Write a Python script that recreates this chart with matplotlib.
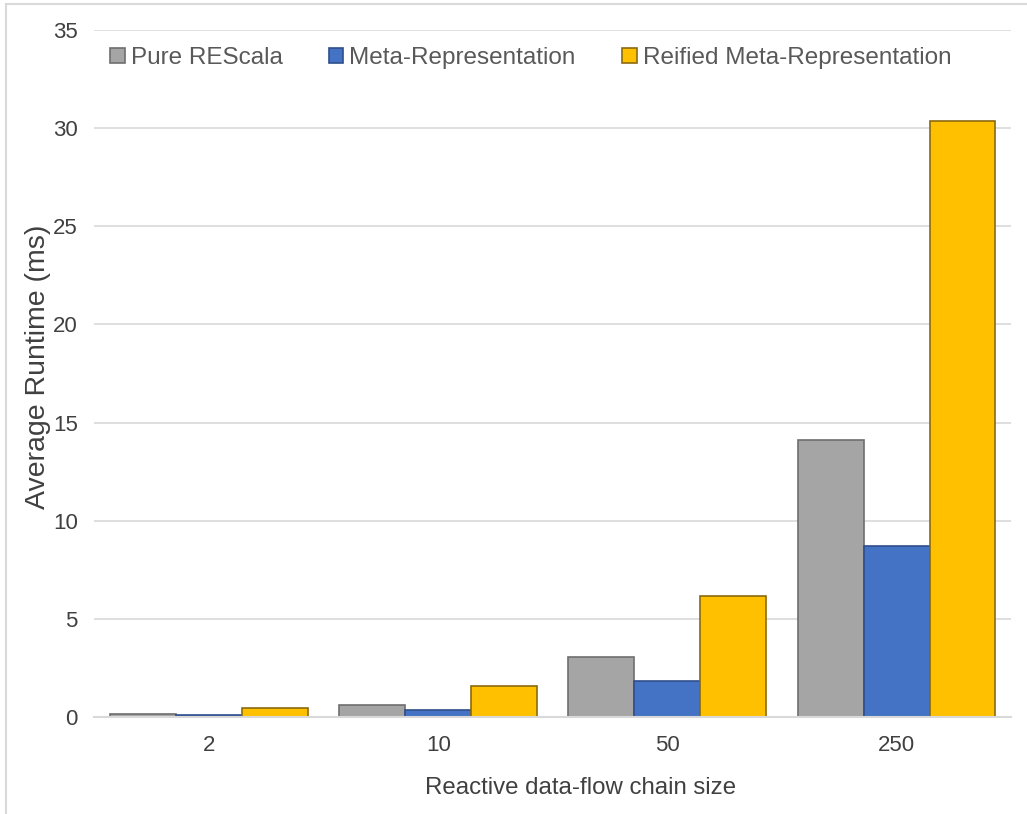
import matplotlib.pyplot as plt
import numpy as np
from matplotlib.lines import Line2D

plt.rcParams['font.family'] = ['Liberation Sans', 'DejaVu Sans']

# 数据
chain_sizes = ["2", "10", "50", "250"]
series_names = ["Pure REScala", "Meta-Representation", "Reified Meta-Representation"]
pure_rescala = [0.17, 0.62, 3.07, 14.1]
meta_repr = [0.08, 0.35, 1.83, 8.73]
reified_meta = [0.44, 1.58, 6.18, 30.35]

fill_colors = ["#A5A5A5", "#4472C4", "#FFC000"]
edge_colors = ["#6E6E6E", "#2F4F8A", "#8A6A10"]


def plotBars():
    fig = plt.figure(figsize=(10.27, 8.14), dpi=100)
    ax = fig.add_axes([0.092, 0.1192, 0.8925, 0.8439])

    x = np.arange(len(chain_sizes))
    w = 0.288
    values = [pure_rescala, meta_repr, reified_meta]
    for j, vals in enumerate(values):
        ax.bar(x + (j - 1) * w, vals, width=w, color=fill_colors[j],
               edgecolor=edge_colors[j], linewidth=1.2, label=series_names[j], zorder=3)

    ax.set_xlim(-0.5, len(chain_sizes) - 0.5)
    ax.set_ylim(0, 35)
    ax.set_yticks(range(0, 36, 5))
    ax.set_xticks(x)
    ax.set_xticklabels(chain_sizes)

    ax.grid(axis='y', color='#D9D9D9', linewidth=1.2, zorder=0)
    for s in ['top', 'right', 'left']:
        ax.spines[s].set_visible(False)
    ax.spines['bottom'].set_color('#D9D9D9')
    ax.spines['bottom'].set_linewidth(1.5)
    ax.spines['bottom'].set_zorder(4)

    ax.tick_params(axis='both', length=0, labelsize=16, labelcolor='#404040')
    ax.tick_params(axis='y', pad=12)
    ax.tick_params(axis='x', pad=13)

    ax.set_xlabel("Reactive data-flow chain size", fontsize=17.3, color='#404040', labelpad=12)
    ax.xaxis.set_label_coords(0.53, -0.088)
    ax.set_ylabel("Average Runtime (ms)", fontsize=20.5, color='#404040')
    ax.yaxis.set_label_coords(-0.047, 0.51)

    leg = fig.legend(loc='center left', bbox_to_anchor=(110 / 1027, 1 - 58 / 814),
                     ncol=3, frameon=False, fontsize=17.5, handlelength=0.6,
                     handleheight=0.6, handletextpad=0.25, columnspacing=1.9,
                     borderpad=0, borderaxespad=0)
    for t in leg.get_texts():
        t.set_color('#595959')

    # 外框 (只有上边和左边)
    fig.add_artist(Line2D([6 / 1027, 1], [1 - 4 / 814, 1 - 4 / 814], color='#D9D9D9', linewidth=1.5))
    fig.add_artist(Line2D([6 / 1027, 6 / 1027], [0, 1 - 4 / 814], color='#D9D9D9', linewidth=1.5))

    fig.savefig("out.png", dpi=100)


if __name__ == '__main__':
    plotBars()
